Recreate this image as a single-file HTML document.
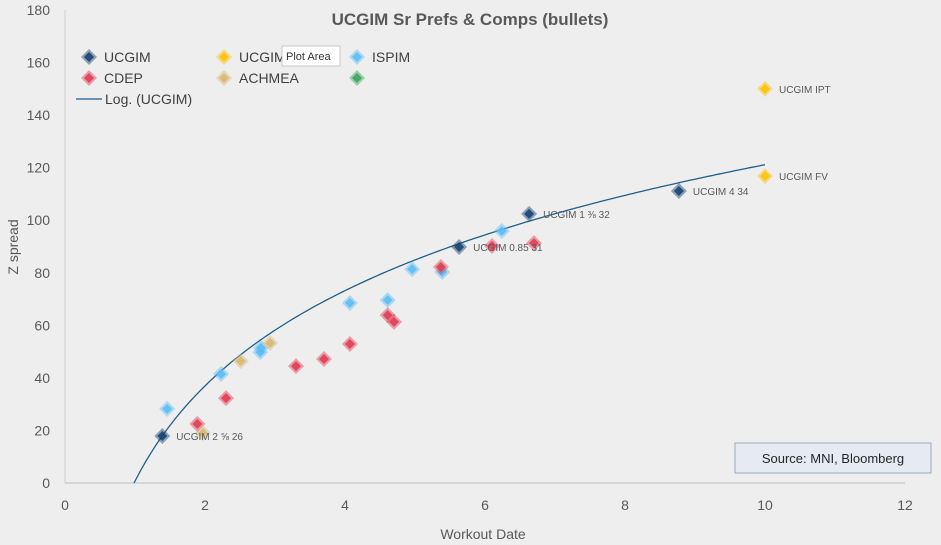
<!DOCTYPE html>
<html><head><meta charset="utf-8"><style>
body{margin:0;background:#eeeeee;font-family:"Liberation Sans",sans-serif;}
svg{display:block}
</style></head><body>
<svg id="chart" width="941" height="545"></svg>
<script>
const ucgimX=[1.39,5.63,6.63,8.77];
const ucgimY=[17.9,89.8,102.4,111.1];
const ucgimLabels=["UCGIM 2 ⅝ 26","UCGIM 0.85 31","UCGIM 1 ⅜ 32","UCGIM 4 34"];
const ucgimYX=[10,10];
const ucgimYY=[150,116.8];
const ucgimYLabels=["UCGIM IPT","UCGIM FV"];
const ispimX=[1.46,2.23,2.79,2.8,4.07,4.61,4.96,5.39,6.24];
const ispimY=[28.2,41.5,49.8,51.4,68.5,69.6,81.4,80.3,95.9];
const cdepX=[1.89,2.3,3.3,3.7,4.07,4.61,4.7,5.37,6.1,6.7];
const cdepY=[22.5,32.3,44.5,47.2,52.9,63.9,61.3,82.2,90.2,91.3];
const achX=[1.97,2.51,2.93];
const achY=[19,46.4,53.3];
const logA=52.3, logB=0.7;
const xTicks=[0,2,4,6,8,10,12];
const yTicks=[0,20,40,60,80,100,120,140,160,180];

const svg=document.getElementById('chart');
const NS='http://www.w3.org/2000/svg';
const X0=65,X1=905,Y0=483,Y1=10;
const sx=v=>X0+(v-0)/12*(X1-X0);
const sy=v=>Y0-(v/180)*(Y0-Y1);
function mk(t,a,txt){const e=document.createElementNS(NS,t);for(const k in a)e.setAttribute(k,a[k]);if(txt!==undefined)e.textContent=txt;svg.appendChild(e);return e;}

let e=mk('text',{x:470,y:25,'text-anchor':'middle','font-size':17,'font-weight':'bold',fill:'#595959'},'UCGIM Sr Prefs & Comps (bullets)');


e=mk('line',{x1:X0,y1:Y1,x2:X0,y2:Y0,stroke:'#d0d0d0'});


e=mk('line',{x1:X0,y1:Y0,x2:X1,y2:Y0,stroke:'#bfbfbf'});


yTicks.forEach(t=>{
  const l=mk('text',{x:50,y:sy(t)+5,'text-anchor':'end','font-size':14,fill:'#595959'},t);
  
  
});
xTicks.forEach(t=>{
  const l=mk('text',{x:sx(t),y:510,'text-anchor':'middle','font-size':14,fill:'#595959'},t);
  
  
});
e=mk('text',{x:483,y:539,'text-anchor':'middle','font-size':14,fill:'#595959'},'Workout Date');


e=mk('text',{x:18,y:247,'text-anchor':'middle','font-size':14,fill:'#595959',transform:'rotate(-90 18 247)'},'Z spread');



// trendline
let d='';
for(let i=0;i<=200;i++){const x=0.986+(10-0.986)*i/200;const y=logA*Math.log(x)+logB;d+=(i?'L':'M')+sx(x).toFixed(1)+','+sy(Math.max(y,0)).toFixed(1);}
e=mk('path',{d:d,fill:'none',stroke:'#1f5f8b','stroke-width':1.3});



function diamond(cx,cy,col,name){
  const g=document.createElementNS(NS,'g');svg.appendChild(g);
  
  
  const o=document.createElementNS(NS,'path');o.setAttribute('d',`M${cx},${cy-8}L${cx+8},${cy}L${cx},${cy+8}L${cx-8},${cy}Z`);o.setAttribute('fill',col);o.setAttribute('opacity','0.45');g.appendChild(o);
  const i=document.createElementNS(NS,'path');i.setAttribute('d',`M${cx},${cy-5}L${cx+5},${cy}L${cx},${cy+5}L${cx-5},${cy}Z`);i.setAttribute('fill',col);i.setAttribute('opacity','0.85');g.appendChild(i);
}
function series(xs,ys,col,name){xs.forEach((x,i)=>diamond(sx(x),sy(ys[i]),col,name));}
series(ispimX,ispimY,'#5bbcf5','ispim-point');
series(achX,achY,'#d6b870','achmea-point');
series(cdepX,cdepY,'#e03a50','cdep-point');
series(ucgimX,ucgimY,'#123f6e','ucgim-point');
series(ucgimYX,ucgimYY,'#ffc000','ucgim-yellow-point');
function labels(xs,ys,ls){ls.forEach((t,i)=>{const l=mk('text',{x:sx(xs[i])+14,y:sy(ys[i])+4,'font-size':10,fill:'#595959'},t);});}
labels(ucgimX,ucgimY,ucgimLabels);
labels(ucgimYX,ucgimYY,ucgimYLabels);

// legend
const leg=[['UCGIM','#123f6e',89,57],['UCGIM','#ffc000',224,57],['ISPIM','#5bbcf5',357,57],['CDEP','#e03a50',89,78],['ACHMEA','#d6b870',224,78],['','#3aa35a',357,78]];
leg.forEach(([t,c,x,y])=>{
  diamond(x,y,c,'legend-marker');
  if(t){const l=mk('text',{x:x+15,y:y+5,'font-size':14,fill:'#404040'},t);}
});
e=mk('line',{x1:76,y1:99,x2:102,y2:99,stroke:'#1f5f8b','stroke-width':1.3});


e=mk('text',{x:105,y:104,'font-size':14,fill:'#404040'},'Log. (UCGIM)');


// tooltip
e=mk('rect',{x:282,y:46,width:58,height:20,fill:'#ffffff',stroke:'#bbbbbb','stroke-width':0.8});


e=mk('text',{x:286,y:60,'font-size':11,fill:'#333'},'Plot Area');


// source box
e=mk('rect',{x:735,y:443,width:196,height:30,fill:'#e6ebf2',stroke:'#8a9ab0','stroke-width':0.8});


e=mk('text',{x:833,y:463,'text-anchor':'middle','font-size':13,fill:'#262626'},'Source: MNI, Bloomberg');


</script>
</body></html>
